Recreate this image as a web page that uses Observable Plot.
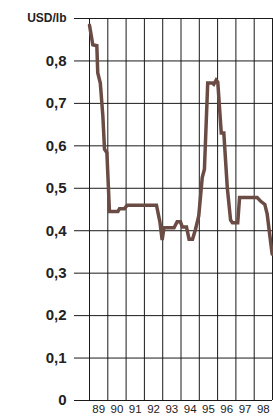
<!DOCTYPE html>
<html>
<head>
<meta charset="utf-8">
<script src="https://cdn.jsdelivr.net/npm/d3@7"></script>
<script src="https://cdn.jsdelivr.net/npm/@observablehq/plot@0.6"></script>
<style>
  html, body { margin: 0; padding: 0; background: #fff; }
  #chart svg { display: block; }
</style>
</head>
<body>
<div id="chart"></div>
<script>
// Price, USD/lb (decimal year)
const years = [1989.00, 1989.18, 1989.40, 1989.45, 1989.59, 1989.73, 1989.82, 1989.95,
  1990.09, 1990.55, 1990.64, 1990.91, 1991.06, 1992.66, 1992.85, 1992.97, 1993.07,
  1993.62, 1993.79, 1993.97, 1994.07, 1994.30, 1994.44, 1994.63, 1994.79, 1994.97,
  1995.16, 1995.28, 1995.46, 1995.71, 1995.79, 1995.92, 1996.01, 1996.20, 1996.34,
  1996.53, 1996.71, 1996.81, 1997.10, 1997.20, 1998.16, 1998.34, 1998.58, 1998.71, 1998.98];
const prices = [0.884, 0.838, 0.836, 0.772, 0.748, 0.670, 0.592, 0.584,
  0.445, 0.445, 0.452, 0.452, 0.460, 0.460, 0.420, 0.378, 0.407,
  0.407, 0.421, 0.421, 0.409, 0.409, 0.380, 0.380, 0.403, 0.435,
  0.525, 0.545, 0.748, 0.748, 0.745, 0.755, 0.750, 0.630, 0.630,
  0.501, 0.425, 0.419, 0.419, 0.478, 0.478, 0.470, 0.462, 0.439, 0.345];
const gridYears = [1989, 1990, 1991, 1992, 1993, 1994, 1995, 1996, 1997, 1998, 1999];
const yearLabels = ["89", "90", "91", "92", "93", "94", "95", "96", "97", "98"];
const yTicks = [0, 0.1, 0.2, 0.3, 0.4, 0.5, 0.6, 0.7, 0.8];
const yTop = 0.9;
const unitLabel = "USD/lb";

const data = years.map((t, i) => ({t, v: prices[i]}));
const labelPos = yearLabels.map((s, i) => ({t: gridYears[i] + 0.5, s}));

const chart = Plot.plot({
  width: 273,
  height: 417,
  marginLeft: 74,
  marginRight: 1,
  marginTop: 18,
  marginBottom: 17,
  style: {background: "#fff", fontFamily: "'Liberation Sans', Arial, sans-serif"},
  x: {domain: [1988.18, 1999], axis: null},
  y: {domain: [0, 0.9], axis: null},
  marks: [
    Plot.ruleY([...yTicks, yTop], {stroke: "#1a1a1a", strokeWidth: 1}),
    Plot.ruleX(gridYears, {y1: 0, y2: yTop, stroke: "#1a1a1a", strokeWidth: 1}),
    Plot.line(data, {x: "t", y: "v", stroke: "#6b4c45", strokeWidth: 3.5, strokeLinejoin: "miter", strokeMiterlimit: 3}),
    Plot.text(yTicks, {
      y: d => d, frameAnchor: "left", textAnchor: "end", dx: -8,
      text: d => d === 0 ? "0" : d.toFixed(1).replace(".", ","),
      fontSize: 15, fontWeight: "bold", fill: "#222"
    }),
    Plot.text([yTop], {
      y: d => d, frameAnchor: "left", textAnchor: "end", dx: -8,
      text: () => unitLabel, fontSize: 12, fontWeight: "bold", fill: "#222"
    }),
    Plot.text(labelPos, {
      x: "t", frameAnchor: "bottom", dy: 12, text: "s",
      fontSize: 11.5, fill: "#222"
    })
  ]
});
document.getElementById("chart").append(chart);
</script>
</body>
</html>
